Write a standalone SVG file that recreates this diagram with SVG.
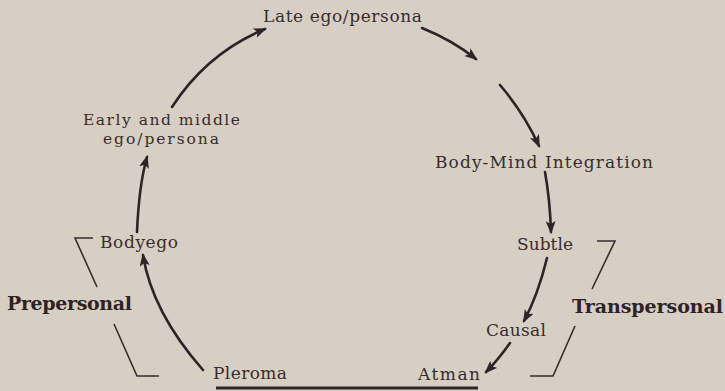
<svg xmlns="http://www.w3.org/2000/svg" width="725" height="391" viewBox="0 0 725 391">
<defs>
<style>
.t{font-family:"DejaVu Serif","Liberation Serif",serif;font-size:17px;fill:#3a2c2c}
.s{font-size:15.5px}
.b{font-family:"DejaVu Serif","Liberation Serif",serif;font-size:19px;font-weight:bold;fill:#2f2224}
.c{fill:none;stroke:#2f2326;stroke-width:2.6;stroke-linecap:round}
.k{fill:none;stroke:#3a2c2c;stroke-width:1.6}
</style>
<marker id="ah" markerUnits="userSpaceOnUse" markerWidth="14" markerHeight="12" refX="11" refY="5" orient="auto">
<path d="M0,0 L13,5 L0,10 L3,5 z" fill="#2f2326"/>
</marker>
</defs>
<rect width="725" height="391" fill="#d7cfc4"/>
<g id="late"><text class="t" x="263" y="22" textLength="159">Late ego/persona</text></g>
<g id="early"><text class="t s" x="83" y="125" textLength="157">Early and middle</text><text class="t s" x="103" y="144" textLength="116">ego/persona</text></g>
<g id="bodymind"><text class="t" x="435" y="168" textLength="218">Body-Mind Integration</text></g>
<g id="bodyego"><text class="t" x="100" y="248" textLength="78">Bodyego</text></g>
<g id="subtle"><text class="t" x="517" y="250" textLength="56">Subtle</text></g>
<g id="causal"><text class="t" x="486" y="336" textLength="60">Causal</text></g>
<g id="pleroma"><text class="t" x="213" y="379" textLength="74">Pleroma</text></g>
<g id="atman"><text class="t" x="418" y="380" textLength="62">Atman</text></g>
<g id="prepersonal"><text class="b" x="7" y="310" textLength="125">Prepersonal</text>
<path class="k" d="M93,238 L75,238 L97,287"/><path class="k" d="M114,324 L137,376 L159,376"/></g>
<g id="transpersonal"><text class="b" x="572" y="313" textLength="151">Transpersonal</text>
<path class="k" d="M597,241 L615,241 L592,289"/><path class="k" d="M575,326 L553,376 L530,376"/></g>
<g id="baseline"><path d="M216,388 L478,388" stroke="#2f2326" stroke-width="3"/></g>
<g id="connectors">
<path class="c" marker-end="url(#ah)" d="M203,370 Q152,312 143,255"/>
<path class="c" marker-end="url(#ah)" d="M137,232 Q139,185 147,157"/>
<path class="c" marker-end="url(#ah)" d="M172,107 Q207,53 265,29"/>
<path class="c" marker-end="url(#ah)" d="M422,28 Q452,40 476,59"/>
<path class="c" marker-end="url(#ah)" d="M500,85 Q524,113 539,146"/>
<path class="c" marker-end="url(#ah)" d="M545,172 Q550,200 551,232"/>
<path class="c" marker-end="url(#ah)" d="M547,258 Q538,295 524,321"/>
<path class="c" marker-end="url(#ah)" d="M510,343 Q498,360 486,372"/>
</g>
</svg>
